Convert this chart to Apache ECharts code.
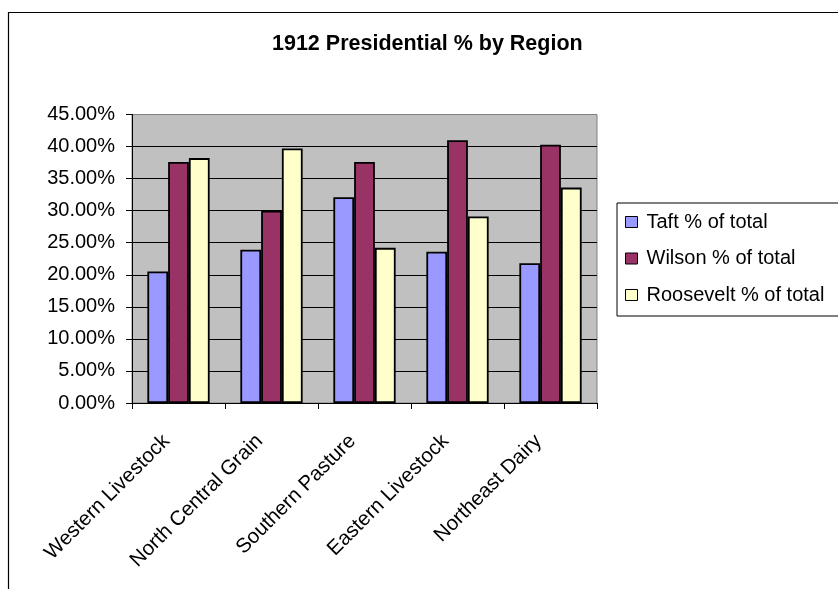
<!DOCTYPE html>
<html>
<head>
<meta charset="utf-8">
<script src="https://cdn.jsdelivr.net/npm/echarts@6/dist/echarts.min.js"></script>
<style>html,body{margin:0;padding:0;background:#fff}#c{width:838px;height:589px}</style>
</head>
<body>
<div id="c"></div>
<script>
const categories = ['Western Livestock', 'North Central Grain', 'Southern Pasture', 'Eastern Livestock', 'Northeast Dairy'];
const taft = [20.5, 23.9, 32.1, 23.6, 21.8];
const wilson = [37.6, 30.0, 37.6, 41.0, 40.3];
const roosevelt = [38.2, 39.7, 24.2, 29.1, 33.6];
const seriesNames = ['Taft % of total', 'Wilson % of total', 'Roosevelt % of total'];
const seriesColors = ['#9999FF', '#993366', '#FFFFCC'];
const yMax = 45, yStep = 5;

const FONT = "'Liberation Sans', Arial, sans-serif";
const chart = echarts.init(document.getElementById('c'), null, {renderer: 'canvas'});
const splitColors = [];
for (let i = 0; i < yMax / yStep; i++) splitColors.push('#000');
splitColors.push('#808080');

const data = [taft, wilson, roosevelt];
chart.setOption({
  animation: false,
  backgroundColor: '#fff',
  graphic: [{
    type: 'rect', z: -1,
    shape: {x: 8.5, y: 12.5, width: 1000, height: 1000},
    style: {fill: 'none', stroke: '#000', lineWidth: 1.2}
  }],
  title: {
    text: '1912 Presidential % by Region',
    left: 272, top: 33, padding: 0,
    textStyle: {fontFamily: FONT, fontSize: 21.5, fontWeight: 'bold', color: '#000', lineHeight: 22}
  },
  legend: {
    orient: 'vertical',
    left: 617, top: 203,
    padding: [9, 16, 11, 8],
    itemGap: 16.5,
    itemWidth: 12, itemHeight: 11,
    icon: 'rect',
    borderColor: '#000', borderWidth: 1,
    backgroundColor: '#fff',
    itemStyle: {borderColor: '#000', borderWidth: 1},
    textStyle: {fontFamily: FONT, fontSize: 20, color: '#000', lineHeight: 20, padding: [0, 0, 0, 4]},
    data: seriesNames
  },
  grid: {
    left: 132, right: 241, top: 114.5, bottom: 186,
    show: true, backgroundColor: '#C0C0C0', borderColor: '#808080', borderWidth: 1,
    containLabel: false
  },
  xAxis: {
    type: 'category',
    data: categories,
    axisLine: {lineStyle: {color: '#000', width: 1}},
    axisTick: {show: true, length: 6, lineStyle: {color: '#000'}},
    axisLabel: {rotate: 45, margin: 23, interval: 0, padding: [0, 17, 0, 0],
      fontFamily: FONT, fontSize: 20.5, color: '#000'}
  },
  yAxis: {
    type: 'value', min: 0, max: yMax, interval: yStep,
    axisLine: {show: true, lineStyle: {color: '#000', width: 1}},
    axisTick: {show: true, length: 6, lineStyle: {color: '#000'}},
    splitLine: {show: true, lineStyle: {color: splitColors, width: 1}},
    axisLabel: {margin: 17, fontFamily: FONT, fontSize: 20, color: '#000',
      formatter: v => v.toFixed(2) + '%'}
  },
  series: seriesNames.map((n, i) => ({
    name: n, type: 'bar', data: data[i],
    barGap: '0%', barCategoryGap: '33%',
    itemStyle: {color: seriesColors[i], borderColor: '#000', borderWidth: 1.8}
  }))
});
</script>
</body>
</html>
